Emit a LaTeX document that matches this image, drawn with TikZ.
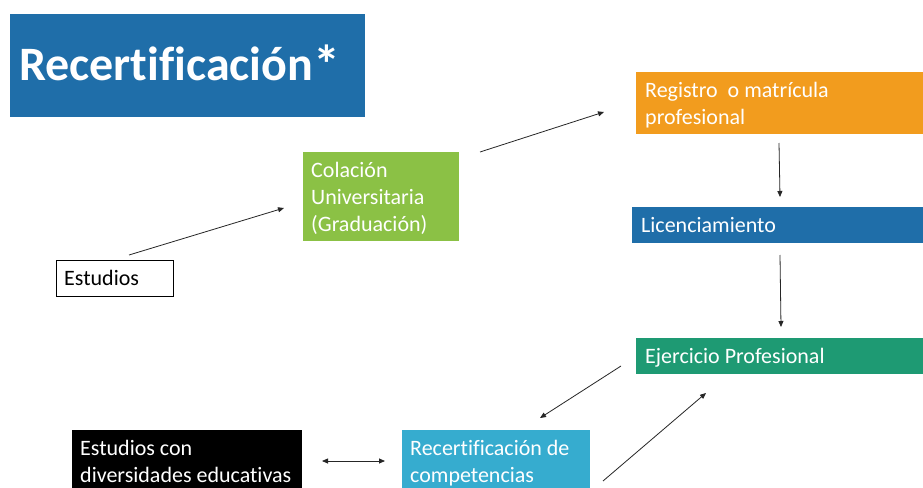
\documentclass[tikz,border=0pt]{standalone}
\usepackage{fontspec}
\setmainfont{Carlito}[Ligatures=NoCommon]
\usetikzlibrary{arrows.meta}
\definecolor{tblue}{HTML}{1F6EA9}
\definecolor{torange}{HTML}{F29C1E}
\definecolor{tgreen}{HTML}{8BC145}
\definecolor{tteal}{HTML}{1E9A73}
\definecolor{tcyan}{HTML}{36ACCF}
\tikzset{
  box/.style={anchor=north west, inner sep=0pt, outer sep=0pt},
  txt/.style={anchor=north west, inner sep=0pt, align=left,
    font=\fontsize{22}{27}\selectfont},
  conn/.style={draw=black!85, line width=0.8pt,
    -{Triangle[length=6pt,width=5pt]}},
  conn2/.style={draw=black!85, line width=0.8pt,
    {Triangle[length=6pt,width=5pt]}-{Triangle[length=6pt,width=5pt]}}
}
\begin{document}
\begin{tikzpicture}[x=1pt,y=-1pt]
\clip (0,0) rectangle (923,487);
\fill[white] (0,0) rectangle (923,487);
% title
\node[box, fill=tblue, minimum width=355pt, minimum height=103pt] (title) at (10,14) {};
\node[anchor=base west, inner sep=0pt, text=white, font=\fontsize{48}{56}\selectfont\bfseries] (titlet) at (19,80) {Recertificación\raisebox{-3pt}{\fontsize{54}{60}\selectfont *}};
% boxes
\node[box, fill=torange, minimum width=300pt, minimum height=62pt] (reg) at (636,72) {};
\node[txt, text=white] (regt) at (645,78) {\strut Registro\ \ o matrícula\\profesional};
\node[box, fill=tgreen, minimum width=156pt, minimum height=89pt] (col) at (303,152) {};
\node[txt, text=white] (colt) at (311,158) {\strut Colación\\Universitaria\\(Graduación)};
\node[box, fill=tblue, minimum width=300pt, minimum height=36pt] (lic) at (632,207) {};
\node[txt, text=white] (lict) at (641,213) {\strut Licenciamiento};
\node[box, draw=black, line width=0.8pt, fill=white, minimum width=117pt, minimum height=36pt] (est) at (56,260) {};
\node[txt, text=black] (estt) at (64,266) {\strut Estudios};
\node[box, fill=tteal, minimum width=300pt, minimum height=36pt] (eje) at (636,338) {};
\node[txt, text=white] (ejet) at (645,344) {\strut Ejercicio Profesional};
\node[box, fill=black, minimum width=230pt, minimum height=70pt] (div) at (72,430) {};
\node[txt, text=white] (divt) at (80,436) {\strut Estudios con\\diversidades educativas};
\node[box, fill=tcyan, minimum width=188pt, minimum height=70pt] (rec) at (402,430) {};
\node[txt, text=white] (rect) at (410,436) {\strut Recertificación de\\competencias};
% connector ends
\coordinate (a1s) at (129,255); \coordinate (a1e) at (284,208);
\coordinate (a2s) at (480,152); \coordinate (a2e) at (604,112);
\coordinate (a3s) at (779,143); \coordinate (a3e) at (780,197);
\coordinate (a4s) at (780,255); \coordinate (a4e) at (781,327);
\coordinate (a5s) at (621,366); \coordinate (a5e) at (540,418);
\coordinate (a6s) at (322,461); \coordinate (a6e) at (385,461);
\coordinate (a7s) at (603,481); \coordinate (a7e) at (706,393);
\draw[conn] (a1s) -- (a1e);
\draw[conn] (a2s) -- (a2e);
\draw[conn] (a3s) -- (a3e);
\draw[conn] (a4s) -- (a4e);
\draw[conn] (a5s) -- (a5e);
\draw[conn2] (a6s) -- (a6e);
\draw[conn] (a7s) -- (a7e);
\end{tikzpicture}
\end{document}
